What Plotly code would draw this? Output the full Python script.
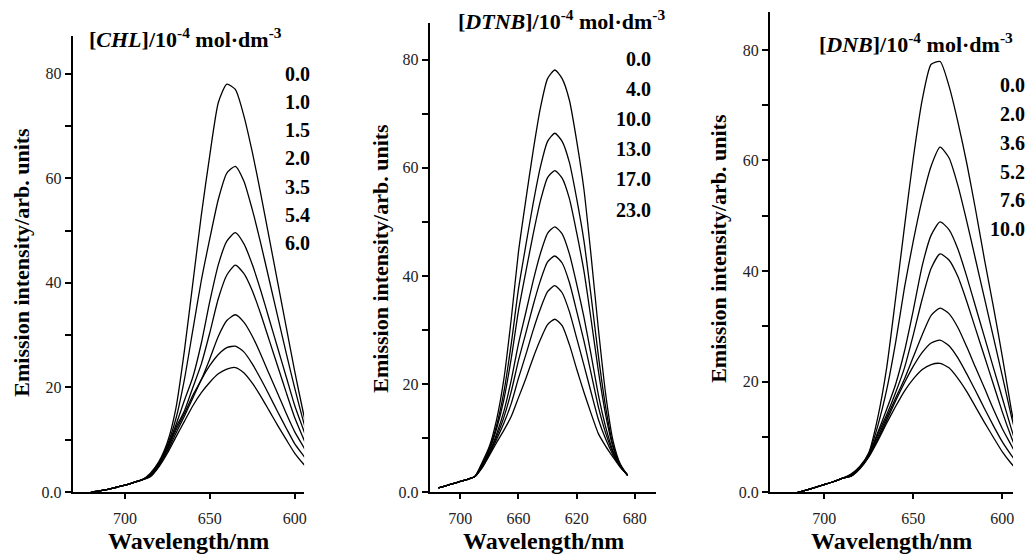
import plotly.graph_objects as go

W, H = 1034, 560
FONT = "Liberation Serif"

# ---------------- data ----------------
# Panel 1: CHL quenching
wl_chl = [720, 715, 710, 705, 700, 695, 690, 685, 680, 675, 670, 665, 660, 655,
          650, 645, 640, 635, 630, 625, 620, 615, 610, 605, 600, 595, 590]
chl_conc = ["0.0", "1.0", "1.5", "2.0", "3.5", "5.4", "6.0"]
chl_00 = [0.0, 0.2, 0.5, 0.9, 1.3, 1.8, 2.3, 3.6, 5.8, 9.5, 16, 27, 40, 53,
          64.5, 74.5, 78, 77, 72, 65, 57, 48.5, 40, 31.5, 23, 15.2, 8]
chl_10 = [0.0, 0.2, 0.5, 0.9, 1.3, 1.8, 2.3, 3.4, 5.6, 9.0, 14, 21.5, 31, 40.5,
          48.5, 56, 61, 62.3, 59.5, 54, 47.5, 40.5, 33.5, 26.5, 19.8, 13.6, 8]
chl_15 = [0.0, 0.2, 0.5, 0.9, 1.3, 1.8, 2.3, 3.3, 5.4, 8.6, 12.8, 17.5, 22, 28.5,
          36.5, 43.5, 48, 49.6, 47.5, 43.5, 38.5, 33, 27.5, 22, 16.5, 12, 7.5]
chl_20 = [0.0, 0.2, 0.5, 0.9, 1.3, 1.8, 2.3, 3.2, 5.3, 8.4, 12.3, 15.5, 20, 24.5,
          30.5, 37, 41.5, 43.4, 41.8, 38.5, 34, 29, 24, 19, 14.2, 10.3, 6.5]
chl_35 = [0.0, 0.2, 0.5, 0.9, 1.3, 1.8, 2.3, 3.1, 5.2, 8.2, 11.8, 15, 18.5, 21.5,
          25.5, 29.8, 32.8, 33.9, 32.5, 29.8, 26.3, 22.5, 18.8, 15, 11.5, 8.7, 5.8]
chl_54 = [0.0, 0.2, 0.5, 0.9, 1.3, 1.8, 2.3, 3.0, 5.0, 7.8, 11.2, 14.5, 18, 21.5,
          24.2, 26.3, 27.6, 27.9, 26.8, 24.5, 21.6, 18.5, 15.3, 12.2, 9.2, 7.0, 4.8]
chl_60 = [0.0, 0.2, 0.5, 0.9, 1.3, 1.8, 2.3, 2.9, 4.8, 7.4, 10.5, 13.5, 16.5, 19,
          21, 22.6, 23.5, 23.8, 22.8, 20.8, 18.3, 15.5, 12.7, 10, 7.4, 5.4, 3.6]

# Panel 2: DTNB quenching
wl_dtnb = [715, 710, 705, 700, 695, 690, 685, 680, 675, 670, 665, 660, 655, 650,
           645, 640, 635, 630, 625, 620, 615, 610, 605, 600, 595, 590, 585]
dtnb_conc = ["0.0", "4.0", "10.0", "13.0", "17.0", "23.0"]
dtnb_a = [0.8, 1.2, 1.6, 2.0, 2.4, 2.9, 5.5, 8.5, 13.5, 21, 32, 44.5, 54, 63,
          71, 76.5, 78.1, 76.5, 72.5, 65, 56, 43.5, 30, 18, 9.5, 5.2, 3.1]
dtnb_b = [0.8, 1.2, 1.6, 2.0, 2.4, 2.9, 5.2, 8.1, 12.4, 18.6, 27.4, 37.6, 45.6, 53.3,
          60.1, 64.9, 66.4, 64.9, 61.0, 54.3, 46.5, 36.1, 25.1, 15.6, 8.7, 5.05, 3.15]
dtnb_c = [0.8, 1.2, 1.6, 2.0, 2.4, 2.9, 5.1, 7.8, 11.8, 17.2, 24.7, 33.6, 40.7, 47.6,
          53.8, 58.2, 59.5, 58.1, 54.3, 48.0, 40.9, 31.8, 22.3, 14.2, 8.3, 4.95, 3.15]
dtnb_d = [0.8, 1.2, 1.6, 2.0, 2.4, 2.9, 4.9, 7.4, 10.8, 15.0, 20.7, 27.5, 33.2, 39.0,
          44.1, 47.9, 49.1, 47.8, 44.1, 38.5, 32.4, 25.3, 17.9, 12.0, 7.6, 4.8, 3.15]
dtnb_e = [0.8, 1.2, 1.6, 2.0, 2.4, 2.9, 4.75, 7.2, 10.3, 13.9, 18.6, 24.4, 29.4, 34.5,
          39.1, 42.6, 43.7, 42.4, 38.8, 33.5, 28.0, 21.9, 15.7, 10.9, 7.3, 4.75, 3.15]
dtnb_f = [0.8, 1.2, 1.6, 2.0, 2.4, 2.9, 4.6, 7.0, 9.8, 12.8, 16.4, 21.1, 25.4, 29.9,
          33.9, 37.1, 38.2, 36.9, 33.4, 28.5, 23.5, 18.4, 13.4, 9.8, 6.9, 4.7, 3.2]
dtnb_g = [0.8, 1.2, 1.6, 2.0, 2.4, 2.9, 4.5, 6.8, 9.2, 11.5, 14, 17.5, 21, 24.8,
          28.2, 31, 32, 30.8, 27.3, 22.8, 18.5, 14.5, 10.8, 8.5, 6.5, 4.6, 3.2]

# Panel 3: DNB quenching
wl_dnb = [715, 710, 705, 700, 695, 690, 685, 680, 675, 670, 665, 660, 655, 650,
          645, 640, 635, 630, 625, 620, 615, 610, 605, 600, 595, 590]
dnb_conc = ["0.0", "2.0", "3.6", "5.2", "7.6", "10.0"]
dnb_a = [0.0, 0.4, 0.9, 1.4, 1.9, 2.5, 3.3, 4.7, 7.2, 13.5, 22.5, 35, 48, 60.5,
         71, 77.4, 77.9, 73.5, 67, 59.5, 51, 42, 33.5, 24.5, 15, 7]
dnb_b = [0.0, 0.4, 0.9, 1.4, 1.9, 2.5, 3.2, 4.6, 7.0, 12, 18.5, 27, 37, 45.5,
         53, 59, 62.4, 60.5, 55.5, 49, 42, 35, 28, 21, 13.8, 7.5]
dnb_c = [0.0, 0.4, 0.9, 1.4, 1.9, 2.5, 3.1, 4.5, 6.8, 10.8, 15, 19.5, 25.5, 33,
         41, 46.5, 48.9, 47.5, 44, 39, 33.5, 28, 22.5, 17, 11.5, 6.5]
dnb_d = [0.0, 0.4, 0.9, 1.4, 1.9, 2.5, 3.0, 4.5, 6.7, 10.5, 14, 18, 22.5, 28.5,
         35, 40.5, 43.1, 42, 39, 34.5, 29.5, 24.5, 19.5, 14.5, 10, 6]
dnb_e = [0.0, 0.4, 0.9, 1.4, 1.9, 2.5, 3.0, 4.4, 6.6, 10, 13.5, 17, 20.5, 24.5,
         28.5, 32, 33.3, 32.3, 29.8, 26.3, 22.5, 18.8, 15, 11.5, 8.5, 5.5]
dnb_f = [0.0, 0.4, 0.9, 1.4, 1.9, 2.5, 2.9, 4.3, 6.5, 9.6, 13, 16.5, 19.8, 22.8,
         25.3, 27, 27.5, 26.5, 24.3, 21.4, 18.3, 15.1, 12, 9.1, 6.7, 4.5]
dnb_g = [0.0, 0.4, 0.9, 1.4, 1.9, 2.5, 2.9, 4.3, 6.4, 9.3, 12.5, 15.5, 18.3, 20.5,
         22.2, 23.1, 23.3, 22.5, 20.6, 18.2, 15.4, 12.6, 9.9, 7.3, 5.2, 3.4]

# tick labels
y_tickvals = [0, 20, 40, 60, 80]
y_ticktext = ["0.0", "20", "40", "60", "80"]
y_minorvals = [10, 30, 50, 70]
x1_tickvals = [700, 650, 600]
x1_ticktext = ["700", "650", "600"]
x2_tickvals = [700, 660, 620, 580]
x2_ticktext = ["700", "660", "620", "680"]
x3_tickvals = [700, 650, 600]
x3_ticktext = ["700", "650", "600"]

x_title = "Wavelength/nm"
y_title = "Emission intensity/arb. units"
chl_header = "[<i>CHL</i>]/10<sup>-4</sup> mol·dm<sup>-3</sup>"
dtnb_header = "[<i>DTNB</i>]/10<sup>-4</sup> mol·dm<sup>-3</sup>"
dnb_header = "[<i>DNB</i>]/10<sup>-4</sup> mol·dm<sup>-3</sup>"

# ---------------- figure ----------------
fig = go.Figure()

line_style = dict(color="black", width=1.3, shape="spline", smoothing=0.6)

for series in [chl_00, chl_10, chl_15, chl_20, chl_35, chl_54, chl_60]:
    fig.add_trace(go.Scatter(x=wl_chl, y=series, mode="lines", line=line_style,
                             xaxis="x", yaxis="y", showlegend=False, hoverinfo="skip"))
for series in [dtnb_a, dtnb_b, dtnb_c, dtnb_d, dtnb_e, dtnb_f, dtnb_g]:
    fig.add_trace(go.Scatter(x=wl_dtnb, y=series, mode="lines", line=line_style,
                             xaxis="x2", yaxis="y2", showlegend=False, hoverinfo="skip"))
for series in [dnb_a, dnb_b, dnb_c, dnb_d, dnb_e, dnb_f, dnb_g]:
    fig.add_trace(go.Scatter(x=wl_dnb, y=series, mode="lines", line=line_style,
                             xaxis="x3", yaxis="y3", showlegend=False, hoverinfo="skip"))


def px_x(v):
    return v / W


def px_y(v):
    return 1 - v / H


tick_font = dict(family=FONT, size=16, color="#222222")


def xaxis_cfg(dom, rng, tv, tt, anchor):
    return dict(domain=[px_x(dom[0]), px_x(dom[1])], range=rng, anchor=anchor,
                tickvals=tv, ticktext=tt, ticks="outside", ticklen=5, tickwidth=1.5,
                tickcolor="black", showline=True, linecolor="black", linewidth=2,
                showgrid=False, zeroline=False, tickfont=tick_font,
                ticklabelstandoff=6)


def yaxis_cfg(dom, rng, anchor):
    return dict(domain=[px_y(dom[1]), px_y(dom[0])], range=rng, anchor=anchor,
                tickvals=y_tickvals, ticktext=y_ticktext, ticks="outside", ticklen=6,
                tickwidth=1.5, tickcolor="black", showline=True, linecolor="black",
                linewidth=2, showgrid=False, zeroline=False, tickfont=tick_font,
                minor=dict(tickvals=y_minorvals, ticks="outside", ticklen=6,
                           tickwidth=1.5, tickcolor="black", showgrid=False))


fig.update_layout(
    width=W, height=H,
    margin=dict(l=0, r=0, t=0, b=0),
    paper_bgcolor="white", plot_bgcolor="white",
    xaxis=xaxis_cfg((73, 305), [730.7, 594.5], x1_tickvals, x1_ticktext, "y"),
    yaxis=yaxis_cfg((37, 500), [0, 87.15], "x"),
    xaxis2=xaxis_cfg((431, 658.3), [721, 565.2], x2_tickvals, x2_ticktext, "y2"),
    yaxis2=yaxis_cfg((23, 500.3), [0, 86.86], "x2"),
    xaxis3=xaxis_cfg((772.3, 1016), [730.5, 594], x3_tickvals, x3_ticktext, "y3"),
    yaxis3=yaxis_cfg((11.7, 500.3), [0, 86.94], "x3"),
)

ann = []
bold_title = dict(family=FONT, size=24, color="black")
ytitle_font = dict(family=FONT, size=22, color="black")
header_font = dict(family=FONT, size=22, color="black")
label_font = dict(family=FONT, size=20, color="black")

# x-axis titles
for cx in (189, 544.7, 894):
    ann.append(dict(text="<b>" + x_title + "</b>", x=px_x(cx), y=px_y(550),
                    xref="paper", yref="paper", xanchor="center", yanchor="middle",
                    showarrow=False, font=bold_title))
# y-axis titles
for cx, cy in ((22, 266), (382, 262), (721, 252)):
    ann.append(dict(text="<b>" + y_title + "</b>", x=px_x(cx), y=px_y(cy),
                    xref="paper", yref="paper", xanchor="center", yanchor="middle",
                    textangle=-90, showarrow=False, font=ytitle_font))
# headers
for txt, lx, cy in ((chl_header, 87, 39), (dtnb_header, 457, 20), (dnb_header, 819, 44)):
    ann.append(dict(text="<b>" + txt + "</b>", x=px_x(lx), y=px_y(cy),
                    xref="paper", yref="paper", xanchor="left", yanchor="middle",
                    showarrow=False, font=header_font))
# concentration labels
for labels, rx, y0, dy in ((chl_conc, 313, 75, 28.67),
                           (dtnb_conc, 655, 60, 30.6),
                           (dnb_conc, 1030, 86.7, 29.26)):
    for i, lab in enumerate(labels):
        ann.append(dict(text="<b>" + lab + "</b>", x=px_x(rx), y=px_y(y0 + i * dy),
                        xref="paper", yref="paper", xanchor="right", yanchor="middle",
                        showarrow=False, font=label_font))

fig.update_layout(annotations=ann)

fig.write_html("out.html")
